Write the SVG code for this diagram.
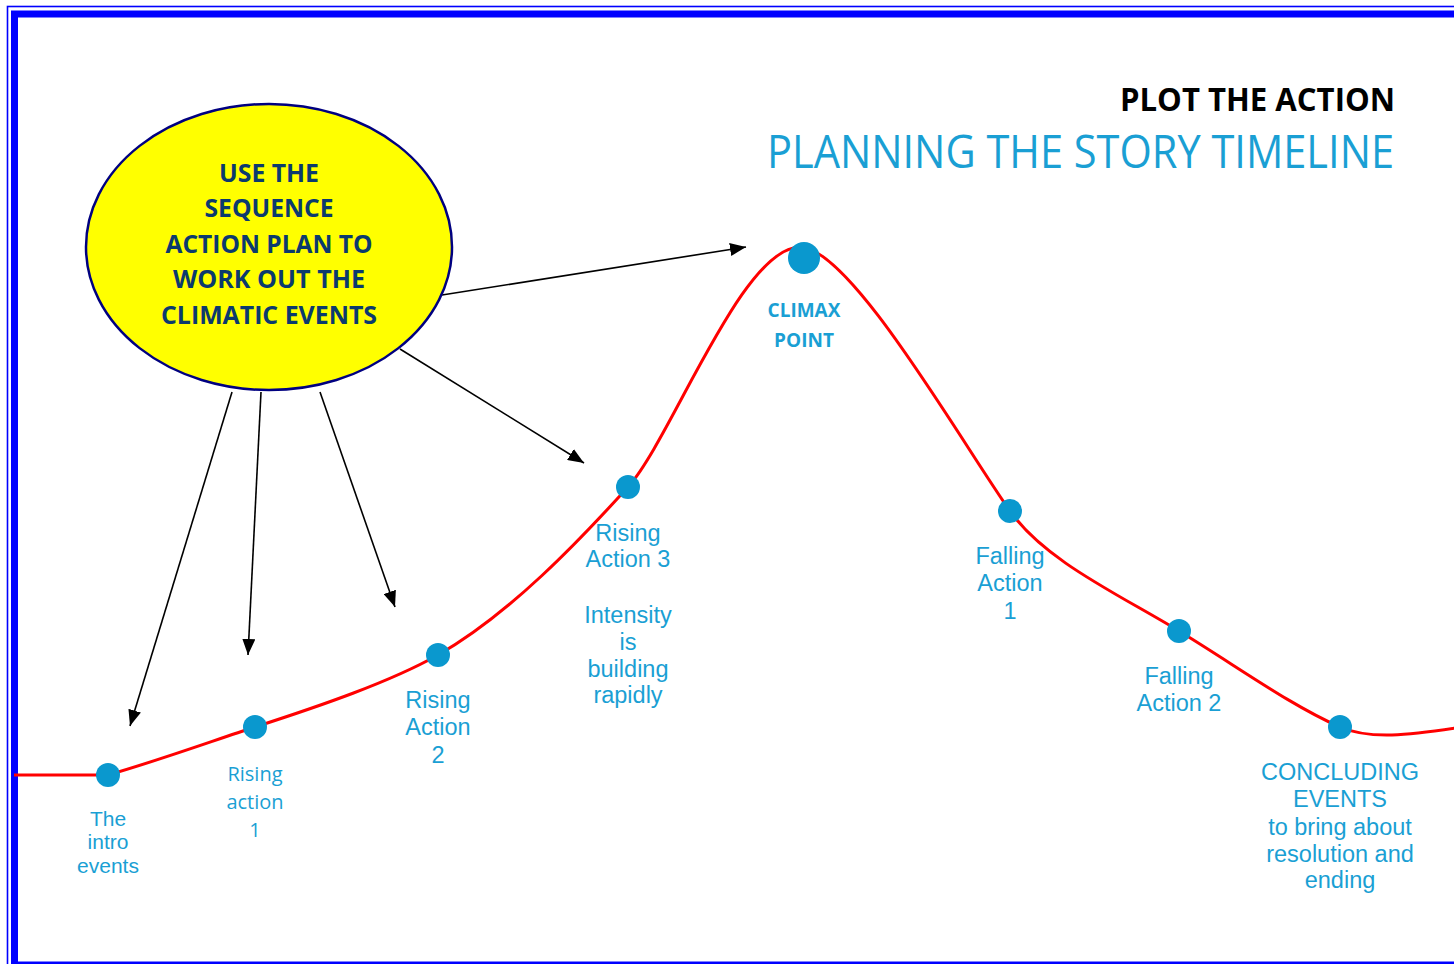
<svg xmlns="http://www.w3.org/2000/svg" width="1454" height="964" viewBox="0 0 1454 964">
<style>
.lbl{font-family:"Liberation Sans",Arial,sans-serif;font-size:23.5px;fill:#1A9FD4;text-anchor:middle}
.cal{font-family:"Open Sans","Liberation Sans",sans-serif;font-size:20px;fill:#1A9FD4;text-anchor:middle}
.calb{font-family:"Open Sans","Liberation Sans",sans-serif;font-size:19px;font-weight:bold;fill:#1A9FD4;text-anchor:middle}
.ell{font-family:"Open Sans","Liberation Sans",sans-serif;font-size:25px;font-weight:bold;fill:#0B3A6E;text-anchor:middle}
.dot{fill:#0A98CE}
.conn{stroke:#000;stroke-width:1.6;fill:none;marker-end:url(#ah)}
</style>
<defs>
<marker id="ah" viewBox="0 0 16 13" refX="16" refY="6.5" markerWidth="16" markerHeight="13" markerUnits="userSpaceOnUse" orient="auto">
<path d="M0,0 L16,6.5 L0,13 z" fill="#000"/>
</marker>
</defs>
<rect width="1454" height="964" fill="#fff"/>
<g id="frame">
<rect x="7.5" y="6.5" width="1470" height="980" fill="none" stroke="#0000FF" stroke-width="1.6"/>
<rect x="14.5" y="14" width="1470" height="951" fill="none" stroke="#0000FF" stroke-width="7"/>
</g>
<g id="title">
<text x="1395" y="111" font-family="'Open Sans','Liberation Sans',sans-serif" font-size="33" font-weight="bold" fill="#000" text-anchor="end" textLength="275" lengthAdjust="spacingAndGlyphs">PLOT THE ACTION</text>
<text x="1394" y="168" font-family="'Open Sans','Liberation Sans',sans-serif" font-size="46" fill="#1A9FD4" text-anchor="end" textLength="627" lengthAdjust="spacingAndGlyphs">PLANNING THE STORY TIMELINE</text>
</g>
<g id="curve">
<path d="M14,775 L108,775 C160,760 215,740 255,727 C320,706 390,682 438,655 C510,614 580,540 628,487 C672,438 742,247 800,247 C850,247 960,440 1010,511 C1045,561 1120,595 1179,631 C1238,667 1290,705 1340,727 C1370,740 1410,735 1456,728" fill="none" stroke="#FF0000" stroke-width="3"/>
</g>
<g id="connectors">
<line class="conn" x1="442" y1="295" x2="746" y2="247"/>
<line class="conn" x1="400" y1="349" x2="584" y2="463"/>
<line class="conn" x1="320" y1="392" x2="395" y2="607"/>
<line class="conn" x1="261" y1="392" x2="248" y2="655"/>
<line class="conn" x1="232" y1="392" x2="130" y2="726"/>
</g>
<g id="plan-ellipse">
<ellipse cx="269" cy="247" rx="183" ry="143" fill="#FFFF00" stroke="#000080" stroke-width="2.5"/>
<text class="ell" x="269" y="182" textLength="100" lengthAdjust="spacingAndGlyphs">USE THE</text>
<text class="ell" x="269" y="217" textLength="129" lengthAdjust="spacingAndGlyphs">SEQUENCE</text>
<text class="ell" x="269" y="253" textLength="207" lengthAdjust="spacingAndGlyphs">ACTION PLAN TO</text>
<text class="ell" x="269" y="288" textLength="192" lengthAdjust="spacingAndGlyphs">WORK OUT THE</text>
<text class="ell" x="269" y="324" textLength="216" lengthAdjust="spacingAndGlyphs">CLIMATIC EVENTS</text>
</g>
<g id="intro">
<circle class="dot" cx="108" cy="775" r="12"/>
<text class="lbl" x="108" y="826" style="font-size:21px">The</text>
<text class="lbl" x="108" y="849" style="font-size:21px">intro</text>
<text class="lbl" x="108" y="873" style="font-size:21px">events</text>
</g>
<g id="rising1">
<circle class="dot" cx="255" cy="727" r="12"/>
<text class="cal" x="255" y="781">Rising</text>
<text class="cal" x="255" y="809">action</text>
<text class="cal" x="255" y="837">1</text>
</g>
<g id="rising2">
<circle class="dot" cx="438" cy="655" r="12"/>
<text class="lbl" x="438" y="708">Rising</text>
<text class="lbl" x="438" y="735">Action</text>
<text class="lbl" x="438" y="763">2</text>
</g>
<g id="rising3">
<circle class="dot" cx="628" cy="487" r="12"/>
<text class="lbl" x="628" y="541">Rising</text>
<text class="lbl" x="628" y="567">Action 3</text>
<text class="lbl" x="628" y="623">Intensity</text>
<text class="lbl" x="628" y="650">is</text>
<text class="lbl" x="628" y="677">building</text>
<text class="lbl" x="628" y="703">rapidly</text>
</g>
<g id="climax">
<circle class="dot" cx="804" cy="258" r="16"/>
<text class="calb" x="804" y="317">CLIMAX</text>
<text class="calb" x="804" y="347">POINT</text>
</g>
<g id="falling1">
<circle class="dot" cx="1010" cy="511" r="12"/>
<text class="lbl" x="1010" y="564">Falling</text>
<text class="lbl" x="1010" y="591">Action</text>
<text class="lbl" x="1010" y="619">1</text>
</g>
<g id="falling2">
<circle class="dot" cx="1179" cy="631" r="12"/>
<text class="lbl" x="1179" y="684">Falling</text>
<text class="lbl" x="1179" y="711">Action 2</text>
</g>
<g id="concluding">
<circle class="dot" cx="1340" cy="727" r="12"/>
<text class="lbl" x="1340" y="780">CONCLUDING</text>
<text class="lbl" x="1340" y="807">EVENTS</text>
<text class="lbl" x="1340" y="835">to bring about</text>
<text class="lbl" x="1340" y="862">resolution and</text>
<text class="lbl" x="1340" y="888">ending</text>
</g>
</svg>
